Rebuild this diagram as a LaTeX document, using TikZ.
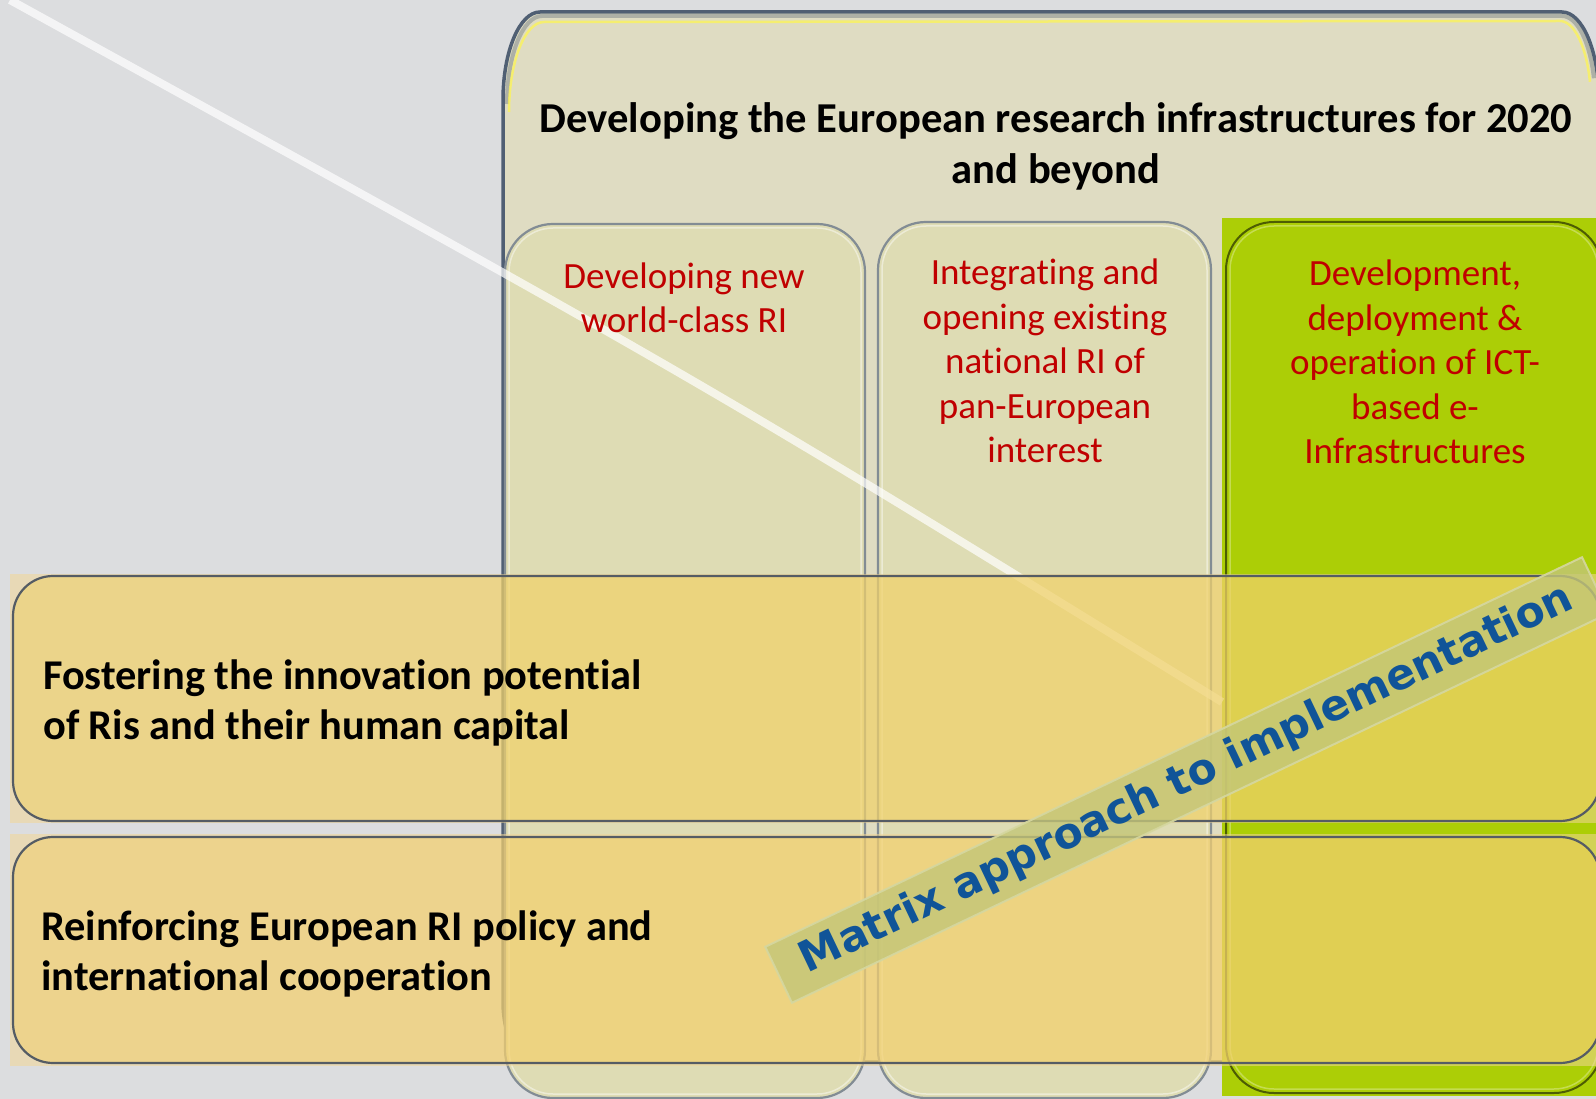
\documentclass[tikz,border=0pt]{standalone}
\usepackage{fontspec}
\setmainfont{Carlito}[Ligatures=NoCommon]
\newfontfamily\bannerfont{DejaVu Sans}
\definecolor{bgc}{RGB}{220,221,223}
\definecolor{bigfill}{RGB}{223,220,194}
\definecolor{bigborder}{RGB}{80,95,115}
\definecolor{colfill}{RGB}{222,220,180}
\definecolor{colborder}{RGB}{130,140,148}
\definecolor{greenc}{RGB}{172,206,6}
\definecolor{redtxt}{RGB}{192,0,0}
\definecolor{rowbg}{RGB}{242,214,150}
\definecolor{rowAfill}{RGB}{240,206,72}
\definecolor{rowBfill}{RGB}{246,204,80}
\definecolor{rowborder}{RGB}{85,92,100}
\definecolor{bannerc}{RGB}{195,198,120}
\definecolor{bannerblue}{RGB}{16,84,152}
\tikzset{
  colbox/.style={fill=colfill, draw=colborder, line width=2.2pt, rounded corners=48pt},
  colhi/.style={draw=white, draw opacity=0.45, line width=1.5pt, rounded corners=44pt},
  greenbox/.style={fill=greenc, draw=black!55!greenc, line width=2pt, rounded corners=48pt},
  rowrect/.style={fill=rowbg, fill opacity=0.55},
  rowbox/.style={draw=rowborder, line width=2.2pt, rounded corners=40pt, fill opacity=0.4},
  titletext/.style={font=\bfseries\fontsize{42.6}{51}\selectfont, align=center, text=black, inner sep=0pt},
  redtext/.style={font=\fontsize{37}{44.5}\selectfont, align=center, text=redtxt, inner sep=0pt},
  rowtext/.style={font=\bfseries\fontsize{42.4}{50.5}\selectfont, align=left, text=black, inner sep=0pt, anchor=west},
  banner/.style={fill=bannerc, fill opacity=0.8, text opacity=1, draw=bannerc!70!white, draw opacity=0.9, line width=2pt,
    minimum width=905pt, minimum height=62pt, inner sep=0pt, text=bannerblue,
    font=\bannerfont\bfseries\fontsize{42.5}{44}\selectfont}
}
\begin{document}
\begin{tikzpicture}[x=1pt,y=-1pt]
\useasboundingbox (0,0) rectangle (1596,1099);
\fill[bgc] (0,0) rectangle (1596,1099);
% big box
\path[fill=bigfill, draw=bigborder, line width=3.5pt]
  (503,100) arc[start angle=180,end angle=270,x radius=37,y radius=88]
  -- (1562,12) arc[start angle=270,end angle=360,x radius=37,y radius=88]
  -- (1599,1002) arc[start angle=0,end angle=90,x radius=30,y radius=60]
  -- (533,1062) arc[start angle=90,end angle=180,x radius=30,y radius=60] -- cycle;
\path[draw=bigborder, draw opacity=0.35, line width=4pt]
  (507,104) arc[start angle=180,end angle=270,x radius=35,y radius=88]
  -- (1562,16) arc[start angle=270,end angle=345,x radius=33,y radius=84];
\path[draw=yellow!70!white, draw opacity=0.7, line width=2.5pt]
  (509,112) arc[start angle=180,end angle=270,x radius=35,y radius=90]
  -- (1560,21) arc[start angle=270,end angle=345,x radius=31,y radius=82];
% columns
\path[colbox] (505,224) rectangle (865,1098);
\path[colhi] (509,228) rectangle (861,1094);
\path[colbox] (878,222) rectangle (1211,1098);
\path[colhi] (882,226) rectangle (1207,1094);
\fill[greenc] (1222,218) rectangle (1596,1096);
\path[greenbox] (1226,222) rectangle (1602,1093);
\path[draw=white, draw opacity=0.3, line width=1.5pt, rounded corners=44pt] (1230,226) rectangle (1598,1089);
% glare stripe
\draw[white, opacity=0.7, line width=8pt] (10,0) .. controls (700,380) .. (1222,702);
% rows
\fill[rowrect] (10,574) rectangle (1596,823);
\path[rowbox, fill=rowAfill] (13,576) rectangle (1600,821);
\fill[rowrect] (10,834) rectangle (1596,1066);
\path[rowbox, fill=rowBfill] (13,837) rectangle (1600,1063);
% texts
\node[titletext] (title) at (1056,146) {Developing the European research infrastructures for 2020\\and beyond};
\node[redtext] (c1) at (684,298) {Developing new\\world-class RI};
\node[redtext] (c2) at (1045,361) {Integrating and\\opening existing\\national RI of\\pan-European\\interest};
\node[redtext] (c3) at (1415,362) {Development,\\deployment \&\\operation of ICT-\\based e-\\Infrastructures};
\node[rowtext] (r1) at (43,703) {Fostering the innovation potential\\of Ris and their human capital};
\node[rowtext] (r2) at (41,954) {Reinforcing European RI policy and\\international cooperation};
% banner
\node[banner, rotate=25.5] (ban) at (1187,780) {Matrix approach to implementation};
\end{tikzpicture}
\end{document}
